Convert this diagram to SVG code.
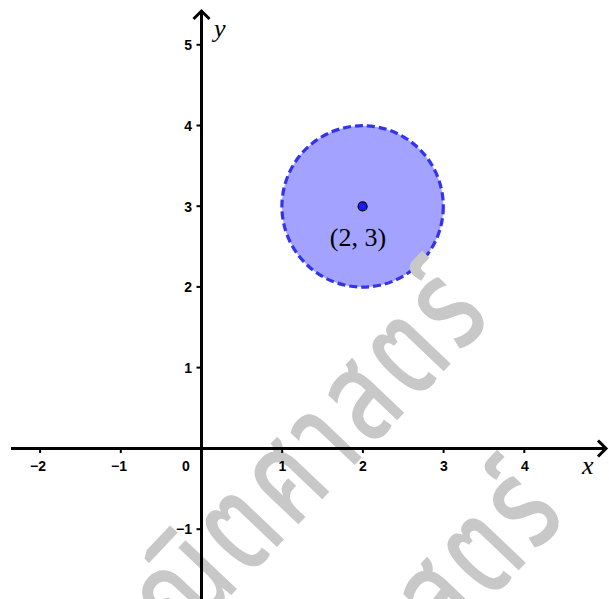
<svg xmlns="http://www.w3.org/2000/svg" width="609" height="599" viewBox="0 0 609 599">
  <defs>
    <style>
      .tick { stroke: #000; stroke-width: 2; }
      .lbl { font-family: "Liberation Sans", Arial, sans-serif; font-weight: bold; font-size: 14px; fill: #000; text-anchor: middle; }
      .ylbl { font-family: "Liberation Sans", Arial, sans-serif; font-weight: bold; font-size: 14px; fill: #000; text-anchor: end; }
      .var { font-family: "Liberation Serif", "Times New Roman", serif; font-style: italic; font-size: 26px; fill: #000; }
      .wm { font-family: "Noto Sans Thai", "Noto Sans", "DejaVu Sans", sans-serif; font-weight: 500; font-size: 96px; letter-spacing: 6px; fill: #c8c8c8; }
    </style>
  </defs>
  <rect width="609" height="599" fill="#fff"/>

  <g id="circle">
    <circle cx="362.6" cy="206.4" r="80.7" fill="#a3a3ff" stroke="#3333ee" stroke-width="3.2" stroke-dasharray="8,4"/>
  </g>

  <g id="watermark">
    <text class="wm" transform="translate(497,315) rotate(-46.5) scale(1,1.35)" text-anchor="end">คณิตศาสตร์</text>
    <text class="wm" transform="translate(572,514) rotate(-46.5) scale(1,1.35)" text-anchor="end">คณิตศาสตร์</text>
  </g>

  <g id="axes">
    <line x1="11" y1="448.5" x2="606" y2="448.5" stroke="#000" stroke-width="3"/>
    <polyline points="598,440.5 606,448.5 598,456.5" fill="none" stroke="#000" stroke-width="3"/>
    <line x1="201.5" y1="599" x2="201.5" y2="11" stroke="#000" stroke-width="3"/>
    <polyline points="193.5,19 201.5,11 209.5,19" fill="none" stroke="#000" stroke-width="3"/>
  </g>

  <g id="x-ticks">
    <line class="tick" x1="40.1" y1="448" x2="40.1" y2="453"/>
    <line class="tick" x1="120.8" y1="448" x2="120.8" y2="453"/>
    <line class="tick" x1="282.2" y1="448" x2="282.2" y2="453"/>
    <line class="tick" x1="362.9" y1="448" x2="362.9" y2="453"/>
    <line class="tick" x1="443.6" y1="448" x2="443.6" y2="453"/>
    <line class="tick" x1="524.3" y1="448" x2="524.3" y2="453"/>
    <text class="lbl" x="38" y="471">−2</text>
    <text class="lbl" x="119" y="471">−1</text>
    <text class="lbl" x="186" y="471">0</text>
    <text class="lbl" x="282.5" y="471">1</text>
    <text class="lbl" x="363" y="471">2</text>
    <text class="lbl" x="444" y="471">3</text>
    <text class="lbl" x="525" y="471">4</text>
    <text class="var" x="582" y="474">x</text>
  </g>

  <g id="y-ticks">
    <line class="tick" x1="196.5" y1="44.8" x2="202" y2="44.8"/>
    <line class="tick" x1="196.5" y1="125.5" x2="202" y2="125.5"/>
    <line class="tick" x1="196.5" y1="206.2" x2="202" y2="206.2"/>
    <line class="tick" x1="196.5" y1="286.9" x2="202" y2="286.9"/>
    <line class="tick" x1="196.5" y1="367.6" x2="202" y2="367.6"/>
    <line class="tick" x1="196.5" y1="529.2" x2="202" y2="529.2"/>
    <text class="ylbl" x="192" y="50">5</text>
    <text class="ylbl" x="192" y="131">4</text>
    <text class="ylbl" x="192" y="211.5">3</text>
    <text class="ylbl" x="192" y="292">2</text>
    <text class="ylbl" x="192" y="373">1</text>
    <text class="ylbl" x="192" y="534">−1</text>
    <text class="var" x="214" y="37">y</text>
  </g>

  <g id="center-point">
    <circle cx="362.6" cy="206.4" r="4.5" fill="#1a1aff" stroke="#000" stroke-width="1.2"/>
    <text x="358" y="246" font-family="'Liberation Serif', 'Times New Roman', serif" font-size="26" text-anchor="middle" fill="#000">(2, 3)</text>
  </g>
</svg>
